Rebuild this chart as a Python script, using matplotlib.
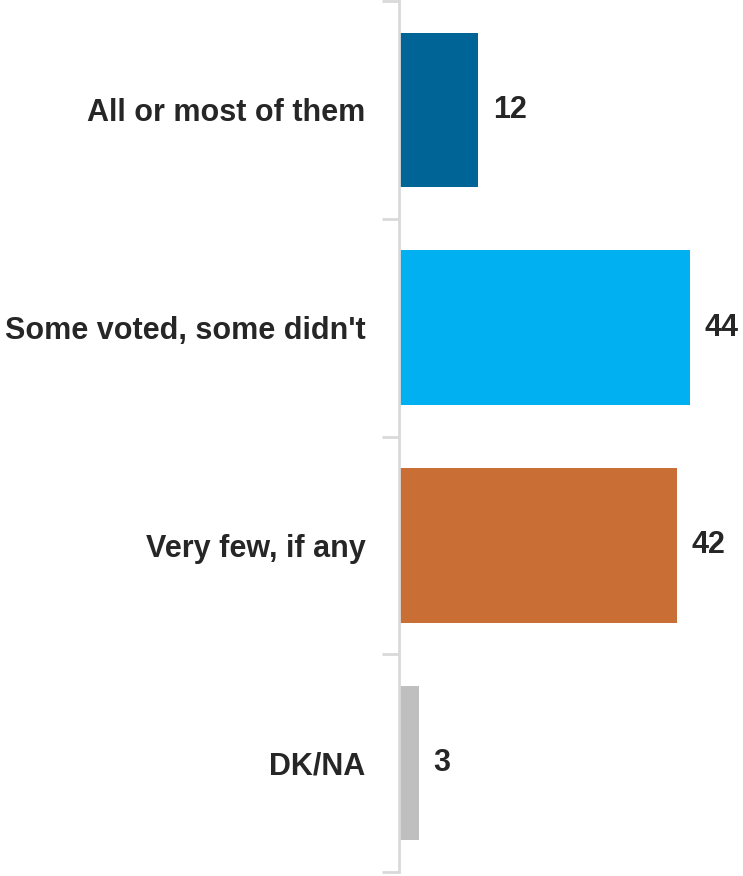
import matplotlib.pyplot as plt

labels = ["All or most of them", "Some voted, some didn't", "Very few, if any", "DK/NA"]
values = [12, 44, 42, 3]
colors = ["#006496", "#00b0f0", "#c96f35", "#bfbfbf"]

fam = "Liberation Sans"

fig = plt.figure(figsize=(7.43, 8.76), dpi=100)
ax = fig.add_axes([399 / 743, 4 / 876, 344 / 743, 871 / 876])

y = list(range(len(values)))
ax.barh(y, values, height=0.71, color=colors)
ax.set_ylim(len(values) - 0.5, -0.5)
ax.set_xlim(0, 52)

for i, v in enumerate(values):
    ax.text(v + 2.2, i, str(v), va="center", ha="left", fontsize=22,
            fontweight="bold", color="#262626", family=fam)

ax.set_yticks([i - 0.5 for i in range(len(values) + 1)])
ax.set_yticklabels([])
ax.set_yticks(y, minor=True)
ax.set_yticklabels(labels, minor=True, fontsize=22, fontweight="bold",
                   color="#262626", family=fam)
ax.tick_params(axis="y", which="major", length=12, width=2, color="#d9d9d9")
ax.tick_params(axis="y", which="minor", length=0, pad=24)
ax.set_xticks([])
for s in ["top", "right", "bottom"]:
    ax.spines[s].set_visible(False)
ax.spines["left"].set_color("#d9d9d9")
ax.spines["left"].set_linewidth(2)

fig.savefig("out.png", dpi=100)
